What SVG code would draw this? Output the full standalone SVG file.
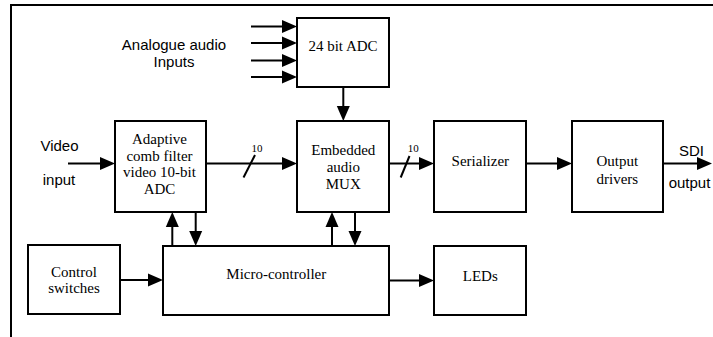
<svg xmlns="http://www.w3.org/2000/svg" xmlns:xlink="http://www.w3.org/1999/xlink" width="713" height="337" viewBox="0 0 713 337">
<style>
.box{fill:#fff;stroke:#000;stroke-width:2}
.ln{fill:none;stroke:#000;stroke-width:2}
.serif{font-family:"Liberation Serif","Times New Roman",serif;font-size:15px;text-anchor:middle;fill:#000}
.sans{font-family:"Liberation Sans",Arial,sans-serif;font-size:15px;text-anchor:middle;fill:#000}
.small{font-family:"Liberation Serif","Times New Roman",serif;font-size:11px;text-anchor:middle;fill:#000}
</style>
<defs>
<path id="ah" d="M-15,-6.5 L0,0 L-15,6.5 z" fill="#000"/>
</defs>
<rect width="713" height="337" fill="#fff"/>
<path class="ln" d="M11,337 V5 H713"/>

<g id="connectors">
<path class="ln" d="M251,26.5 H284 M251,43 H284 M251,60.5 H284 M251,77 H284"/>
<use href="#ah" xlink:href="#ah" transform="translate(297,26.5)"/>
<use href="#ah" xlink:href="#ah" transform="translate(297,43)"/>
<use href="#ah" xlink:href="#ah" transform="translate(297,60.5)"/>
<use href="#ah" xlink:href="#ah" transform="translate(297,77)"/>
<path class="ln" d="M343.3,87 V108"/>
<use href="#ah" xlink:href="#ah" transform="translate(343.3,121) rotate(90)"/>
<path class="ln" d="M68,163.5 H102"/>
<use href="#ah" xlink:href="#ah" transform="translate(115,163.5)"/>
<path class="ln" d="M206,163.5 H284"/>
<use href="#ah" xlink:href="#ah" transform="translate(297,163.5)"/>
<path class="ln" d="M243.5,177.5 L255,155"/>
<text class="small" x="257" y="151.5">10</text>
<path class="ln" d="M389,163.5 H421"/>
<use href="#ah" xlink:href="#ah" transform="translate(434,163.5)"/>
<path class="ln" d="M400.7,177.5 L409.5,156"/>
<text class="small" x="413.3" y="151.5">10</text>
<path class="ln" d="M526,163.5 H559"/>
<use href="#ah" xlink:href="#ah" transform="translate(572,163.5)"/>
<path class="ln" d="M663,163.5 H699"/>
<use href="#ah" xlink:href="#ah" transform="translate(712,163.5)"/>
<path class="ln" d="M172.3,246 V225"/>
<use href="#ah" xlink:href="#ah" transform="translate(172.3,212) rotate(-90)"/>
<path class="ln" d="M195.7,212 V233"/>
<use href="#ah" xlink:href="#ah" transform="translate(195.7,246) rotate(90)"/>
<path class="ln" d="M332,246 V225"/>
<use href="#ah" xlink:href="#ah" transform="translate(332,212) rotate(-90)"/>
<path class="ln" d="M355,212 V233"/>
<use href="#ah" xlink:href="#ah" transform="translate(355,246) rotate(90)"/>
<path class="ln" d="M120,280 H150"/>
<use href="#ah" xlink:href="#ah" transform="translate(163,280)"/>
<path class="ln" d="M389,280.5 H421"/>
<use href="#ah" xlink:href="#ah" transform="translate(434,280.5)"/>
</g>

<g id="labels">
<text class="sans" x="174" y="50">Analogue audio</text>
<text class="sans" x="174" y="66.7">Inputs</text>
<text class="sans" x="59.5" y="150.7">Video</text>
<text class="sans" x="59" y="185">input</text>
<text class="sans" x="691.5" y="156">SDI</text>
<text class="sans" x="689.5" y="187.5">output</text>
</g>

<g id="adc24">
<rect class="box" x="297" y="18" width="92" height="69"/>
<text class="serif" x="343" y="50.7">24 bit ADC</text>
</g>
<g id="adaptive">
<rect class="box" x="115" y="121" width="91" height="91"/>
<text class="serif" x="159.5" y="144.3">Adaptive</text>
<text class="serif" x="159.5" y="160.5">comb filter</text>
<text class="serif" x="159.5" y="177.3">video 10-bit</text>
<text class="serif" x="159.5" y="194.3">ADC</text>
</g>
<g id="embedded">
<rect class="box" x="297" y="121" width="92" height="91"/>
<text class="serif" x="343.3" y="155">Embedded</text>
<text class="serif" x="343.3" y="172">audio</text>
<text class="serif" x="343.3" y="189">MUX</text>
</g>
<g id="serializer">
<rect class="box" x="434" y="121" width="92" height="91"/>
<text class="serif" x="480.3" y="166">Serializer</text>
</g>
<g id="output">
<rect class="box" x="572" y="121" width="91" height="91"/>
<text class="serif" x="617.3" y="165.7">Output</text>
<text class="serif" x="617.3" y="184">drivers</text>
</g>
<g id="control">
<rect class="box" x="28" y="245" width="92" height="69"/>
<text class="serif" x="74" y="277.3">Control</text>
<text class="serif" x="74" y="293.3">switches</text>
</g>
<g id="micro">
<rect class="box" x="163" y="246" width="226" height="69"/>
<text class="serif" x="276.3" y="279.3">Micro-controller</text>
</g>
<g id="leds">
<rect class="box" x="434" y="246" width="92" height="69"/>
<text class="serif" x="480.3" y="281">LEDs</text>
</g>
</svg>
